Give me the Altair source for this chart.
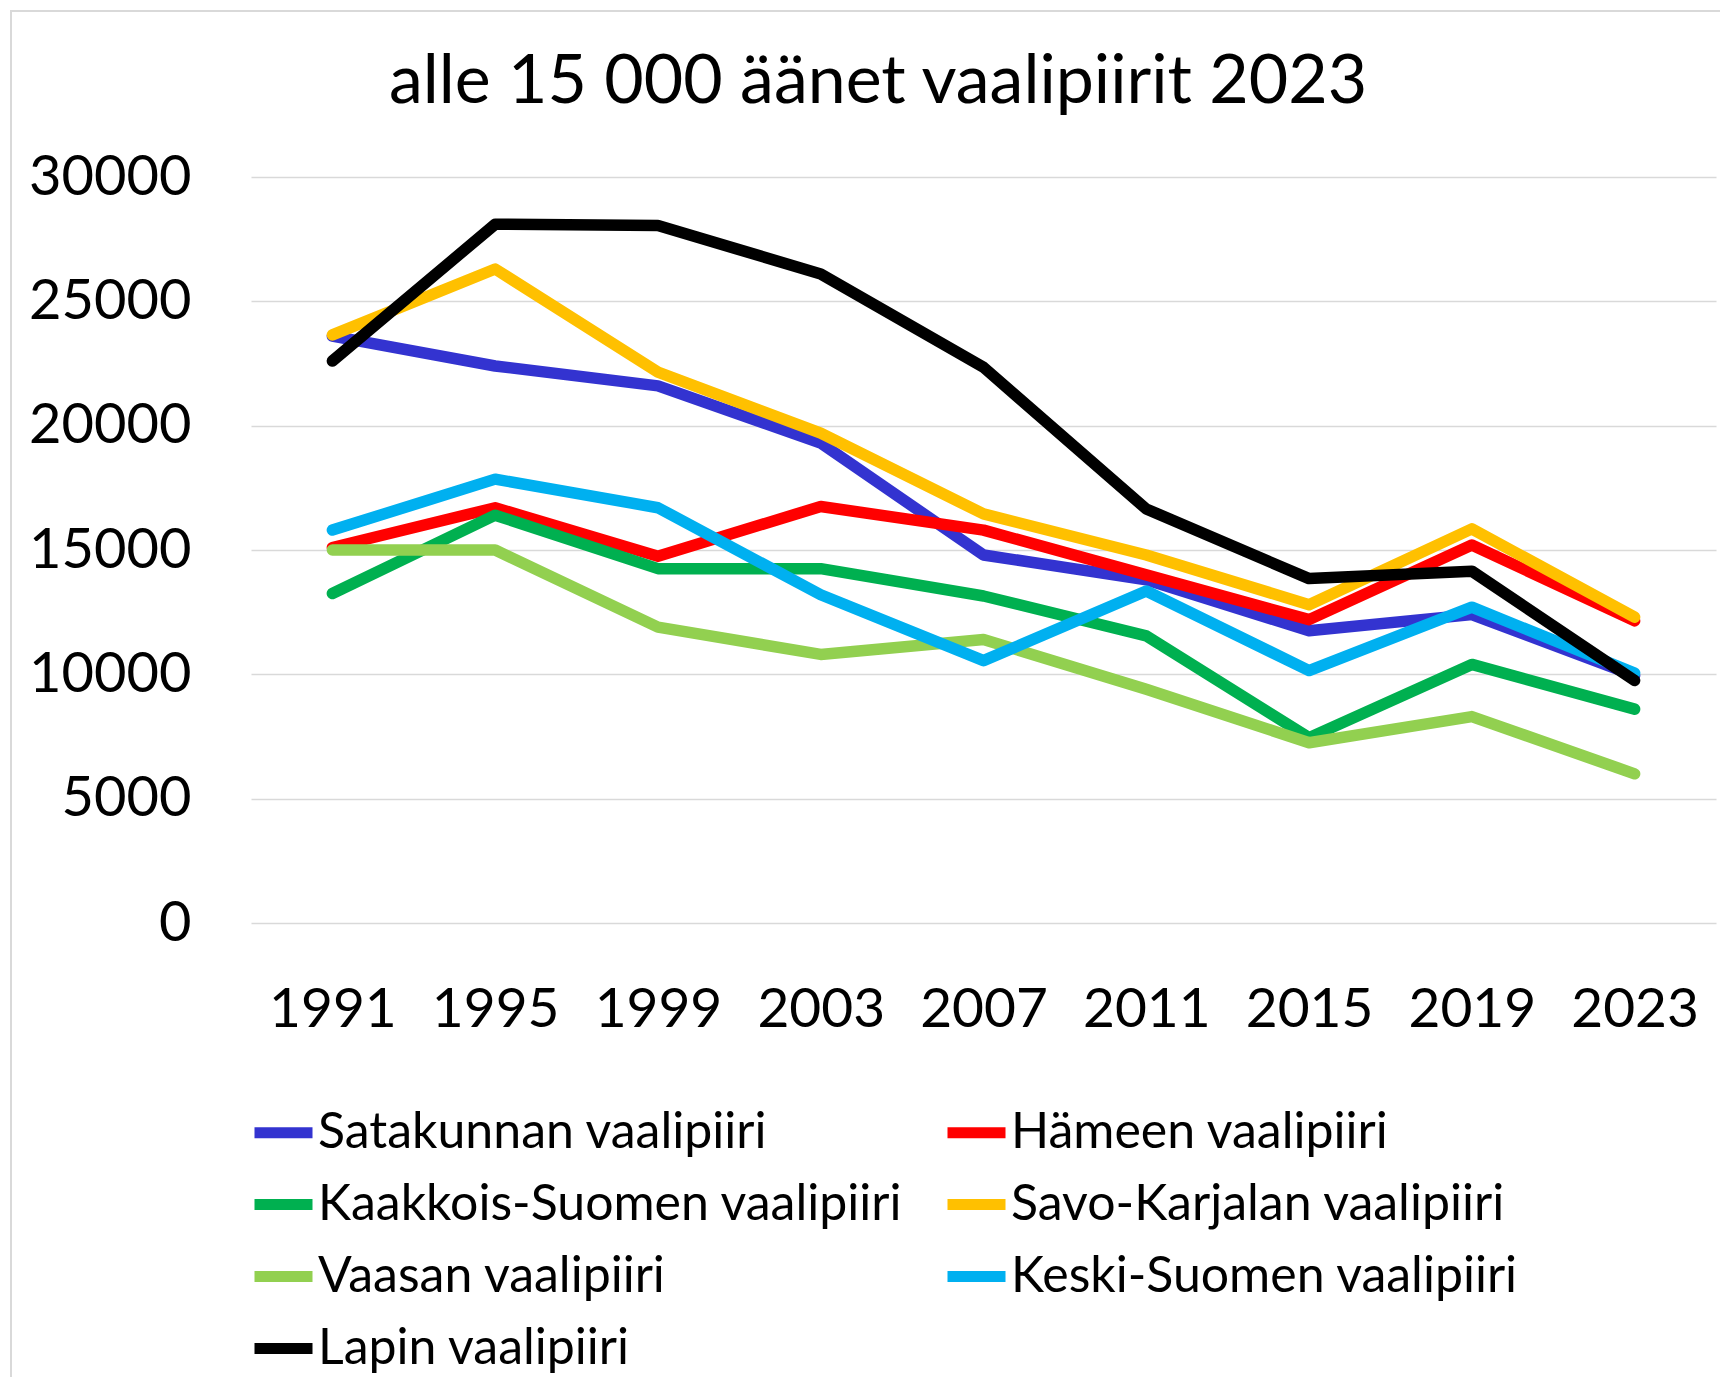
import altair as alt
import pandas as pd

years = ["1991", "1995", "1999", "2003", "2007", "2011", "2015", "2019", "2023"]
series_names = [
    "Satakunnan vaalipiiri",
    "Hämeen vaalipiiri",
    "Kaakkois-Suomen vaalipiiri",
    "Savo-Karjalan vaalipiiri",
    "Vaasan vaalipiiri",
    "Keski-Suomen vaalipiiri",
    "Lapin vaalipiiri",
]
satakunta = [23600, 22400, 21600, 19300, 14800, 13800, 11750, 12400, 9950]
hame = [15100, 16700, 14750, 16750, 15800, 14000, 12200, 15200, 12150]
kaakkois = [13250, 16400, 14250, 14250, 13150, 11550, 7450, 10400, 8600]
savo = [23650, 26300, 22150, 19700, 16450, 14800, 12800, 15850, 12300]
vaasa = [15000, 15000, 11900, 10800, 11400, 9400, 7250, 8300, 6000]
keski = [15800, 17850, 16700, 13200, 10550, 13350, 10150, 12700, 10050]
lappi = [22600, 28100, 28050, 26100, 22350, 16650, 13850, 14150, 9750]
colors = ["#3333D0", "#FF0000", "#00B050", "#FFC000", "#92D050", "#00B0F0", "#000000"]
y_ticks = [0, 5000, 10000, 15000, 20000, 25000, 30000]
title_text = "alle 15 000 äänet vaalipiirit 2023"

all_values = [satakunta, hame, kaakkois, savo, vaasa, keski, lappi]
rows = []
for name, vals in zip(series_names, all_values):
    for yr, v in zip(years, vals):
        rows.append({"vuosi": yr, "vaalipiiri": name, "aanet": v})
df = pd.DataFrame(rows)

# legend fills column by column: order so that it reads row by row
legend_order = [0, 2, 4, 6, 1, 3, 5]
legend_domain = [series_names[i] for i in legend_order]
legend_range = [colors[i] for i in legend_order]

FONT = "Lato"
W, H = 1465, 746

color_scale = alt.Scale(domain=legend_domain, range=legend_range)
x_enc = alt.X(
    "vuosi:O",
    sort=years,
    scale=alt.Scale(paddingInner=0, paddingOuter=0),
    axis=alt.Axis(
        title=None, labelAngle=0, labelFontSize=55, labelFont=FONT,
        labelColor="#000000", ticks=False, domain=False, grid=False,
        labelPadding=86, labelBaseline="middle",
    ),
)
y_enc = alt.Y(
    "aanet:Q",
    scale=alt.Scale(domain=[0, 30000], nice=False),
    axis=alt.Axis(
        title=None, values=y_ticks, format="d", labelFontSize=56, labelFont=FONT,
        labelColor="#000000", ticks=False, domain=False, grid=True,
        gridColor="#D9D9D9", gridWidth=1.5, labelPadding=60,
    ),
)

layers = []
for name in series_names:
    layers.append(
        alt.Chart(df)
        .transform_filter(alt.datum.vaalipiiri == name)
        .mark_line(strokeWidth=11.5, strokeCap="round", strokeJoin="round")
        .encode(
            x=x_enc,
            y=y_enc,
            color=alt.Color(
                "vaalipiiri:N",
                scale=color_scale,
                legend=alt.Legend(
                    title=None, orient="none", legendX=-2, legendY=921,
                    columns=2, columnPadding=22, rowPadding=12,
                    symbolType="stroke", symbolSize=3364, symbolStrokeWidth=11,
                    labelFontSize=50, labelFont=FONT, labelColor="#000000",
                    labelOffset=0, labelLimit=800,
                ),
            ),
        )
    )

frame = alt.Chart(pd.DataFrame({"a": [0]})).mark_rect(
    fill=None, stroke="#D9D9D9", strokeWidth=2
).encode(
    x=alt.value(-240), x2=alt.value(1500), y=alt.value(-166), y2=alt.value(1300)
)

title = alt.Chart(pd.DataFrame({"t": [title_text]})).mark_text(
    font=FONT, fontSize=68, color="#000000", align="center", baseline="middle"
).encode(text="t:N", x=alt.value(627), y=alt.value(-94))

chart = alt.layer(frame, *layers, title).properties(
    width=W, height=H,
    autosize=alt.AutoSizeParams(type="none"),
    padding={"left": 243, "top": 169, "right": 4, "bottom": 454},
).configure_view(stroke=None)

chart.save("out.html", embed_options={"renderer": "svg", "actions": False})
